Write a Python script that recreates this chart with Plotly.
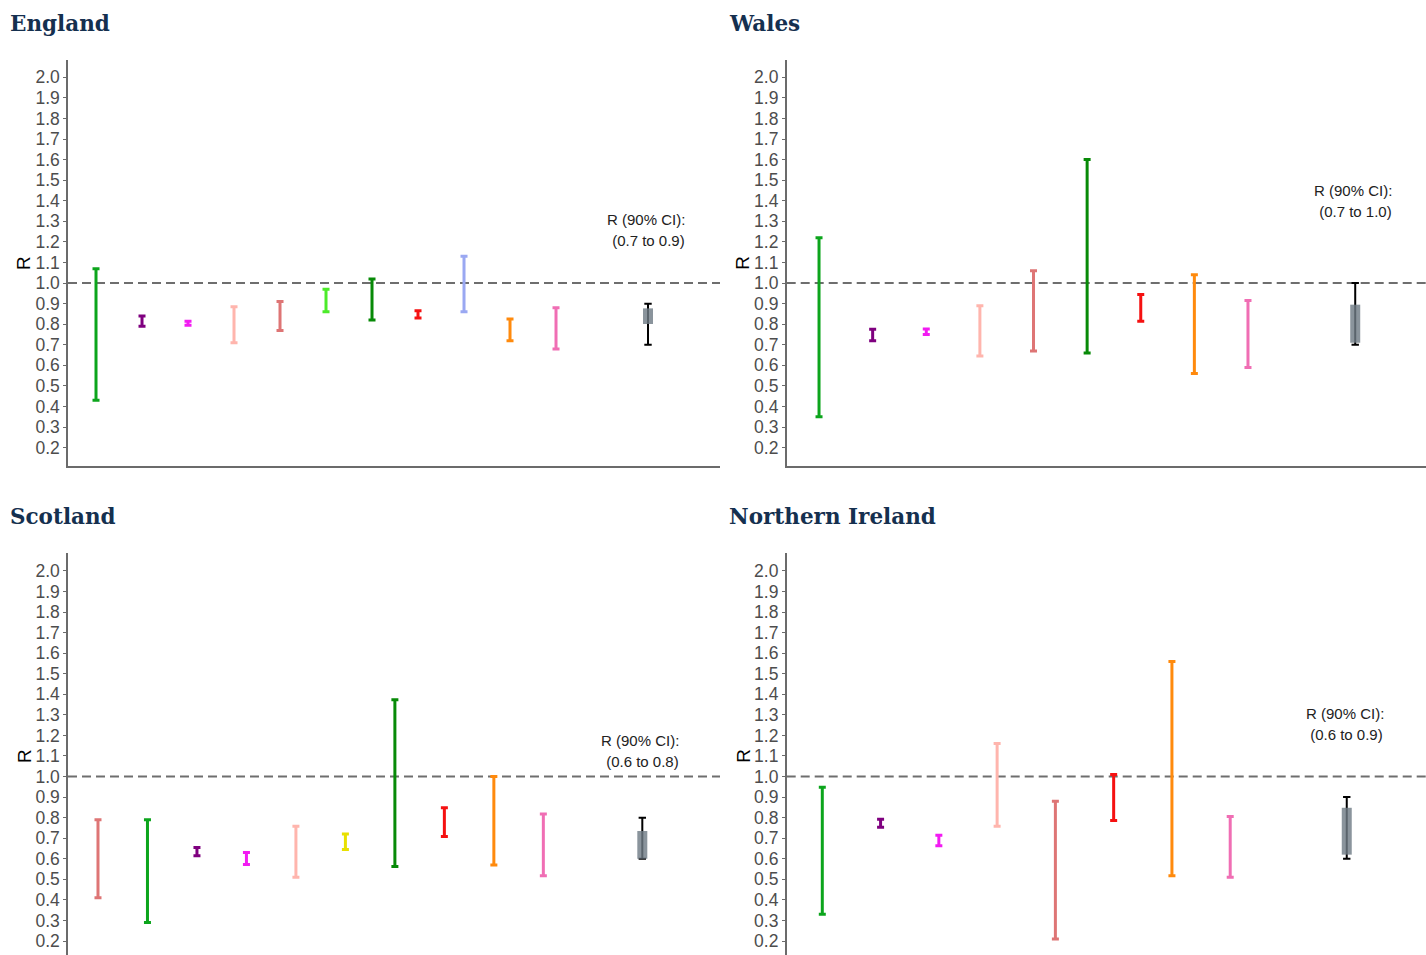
import plotly.graph_objects as go

# ---------------- data ----------------
REGIONS = ["England", "Wales", "Scotland", "Northern Ireland"]

GREEN = "#0CA51C"
DARK_GREEN = "#078A07"
LIME = "#4CEB2A"
PURPLE = "#7F007F"
MAGENTA = "#F21BF2"
LIGHT_PINK = "#FFB5AD"
ROSE = "#DE7575"
RED = "#F51111"
PERIWINKLE = "#9AA8F2"
ORANGE = "#FF8A0D"
PINK = "#F06EB4"
YELLOW = "#E8E000"

ENG_COLORS = [GREEN, PURPLE, MAGENTA, LIGHT_PINK, ROSE, LIME, DARK_GREEN, RED, PERIWINKLE, ORANGE, PINK]
ENG_LOW = [0.43, 0.79, 0.795, 0.71, 0.77, 0.86, 0.82, 0.83, 0.86, 0.72, 0.68]
ENG_HIGH = [1.07, 0.84, 0.815, 0.885, 0.91, 0.97, 1.02, 0.865, 1.13, 0.825, 0.88]

WAL_COLORS = [GREEN, PURPLE, MAGENTA, LIGHT_PINK, ROSE, DARK_GREEN, RED, ORANGE, PINK]
WAL_LOW = [0.35, 0.72, 0.75, 0.645, 0.67, 0.66, 0.815, 0.56, 0.59]
WAL_HIGH = [1.22, 0.775, 0.777, 0.89, 1.06, 1.60, 0.945, 1.04, 0.915]

SCO_COLORS = [ROSE, GREEN, PURPLE, MAGENTA, LIGHT_PINK, YELLOW, DARK_GREEN, RED, ORANGE, PINK]
SCO_LOW = [0.41, 0.29, 0.615, 0.572, 0.51, 0.645, 0.562, 0.708, 0.57, 0.518]
SCO_HIGH = [0.79, 0.79, 0.655, 0.63, 0.758, 0.72, 1.373, 0.848, 1.0, 0.818]

NI_COLORS = [GREEN, PURPLE, MAGENTA, LIGHT_PINK, ROSE, RED, ORANGE, PINK]
NI_LOW = [0.33, 0.753, 0.663, 0.758, 0.21, 0.786, 0.518, 0.51]
NI_HIGH = [0.948, 0.792, 0.714, 1.16, 0.88, 1.01, 1.559, 0.805]

# combined estimate: 90% CI (black) and inner range (grey box)
COMB_LOW = [0.70, 0.70, 0.60, 0.60]
COMB_HIGH = [0.90, 1.00, 0.80, 0.90]
BOX_LOW = [0.801, 0.71, 0.60, 0.62]
BOX_HIGH = [0.877, 0.895, 0.735, 0.848]

CI_TEXT = ["(0.7 to 0.9)", "(0.7 to 1.0)", "(0.6 to 0.8)", "(0.6 to 0.9)"]
CI_LABEL_Y = [1.31, 1.448, 1.173, 1.307]

PANELS = [
    (ENG_COLORS, ENG_LOW, ENG_HIGH),
    (WAL_COLORS, WAL_LOW, WAL_HIGH),
    (SCO_COLORS, SCO_LOW, SCO_HIGH),
    (NI_COLORS, NI_LOW, NI_HIGH),
]

# ---------------- layout geometry ----------------
W, H = 1426, 955
X_DOMAINS = [[68 / W, 720 / W], [786.7 / W, 1.0], [68 / W, 720 / W], [786.7 / W, 1.0]]
Y_DOMAINS = [[1 - 466 / H, 1 - 60 / H], [1 - 466 / H, 1 - 60 / H], [0.0, 1 - 553 / H], [0.0, 1 - 553 / H]]
X_RANGES = [[0.391, 14.565], [0.397, 12.32], [0.394, 13.57], [0.389, 11.36]]
Y_RANGES = [[0.111, 2.084], [0.111, 2.084], [0.132, 2.087], [0.132, 2.087]]
TITLE_POS = [(8, 23), (727, 23), (8, 516), (727, 516)]

fig = go.Figure()
annotations = []
shapes = []

for i, (colors, lows, highs) in enumerate(PANELS):
    sfx = "" if i == 0 else str(i + 1)
    xa, ya = "x" + sfx, "y" + sfx
    n = len(lows)
    # model intervals
    for j in range(n):
        mid = (lows[j] + highs[j]) / 2
        half = (highs[j] - lows[j]) / 2
        fig.add_trace(go.Scatter(
            x=[j + 1], y=[mid], mode="markers", xaxis=xa, yaxis=ya,
            marker=dict(color="rgba(0,0,0,0)", size=1),
            error_y=dict(type="data", array=[half], symmetric=True,
                         color=colors[j], thickness=3, width=3.5),
            showlegend=False, hoverinfo="skip"))
    cpos = n + 2
    # combined black CI
    cmid = (COMB_LOW[i] + COMB_HIGH[i]) / 2
    chalf = (COMB_HIGH[i] - COMB_LOW[i]) / 2
    fig.add_trace(go.Scatter(
        x=[cpos], y=[cmid], mode="markers", xaxis=xa, yaxis=ya,
        marker=dict(color="rgba(0,0,0,0)", size=1),
        error_y=dict(type="data", array=[chalf], symmetric=True,
                     color="#000000", thickness=2, width=3.7),
        showlegend=False, hoverinfo="skip"))
    # grey box
    bmid = (BOX_LOW[i] + BOX_HIGH[i]) / 2
    bhalf = (BOX_HIGH[i] - BOX_LOW[i]) / 2
    fig.add_trace(go.Scatter(
        x=[cpos], y=[bmid], mode="markers", xaxis=xa, yaxis=ya,
        marker=dict(color="rgba(0,0,0,0)", size=1),
        error_y=dict(type="data", array=[bhalf], symmetric=True,
                     color="rgba(111,123,133,0.81)", thickness=10, width=0),
        showlegend=False, hoverinfo="skip"))

    # reference line at R = 1
    shapes.append(dict(type="line", xref=xa + " domain", yref=ya, x0=0, x1=1, y0=1, y1=1,
                       line=dict(color="#6E6E6E", width=2, dash="9px,5px"), layer="below"))

    # CI text
    annotations.append(dict(x=cpos, y=CI_LABEL_Y[i], xref=xa, yref=ya, text="R (90% CI):",
                            showarrow=False, xanchor="center", yanchor="middle", xshift=-2,
                            font=dict(family="Liberation Sans, Arial", size=15, color="#222222")))
    annotations.append(dict(x=cpos, y=CI_LABEL_Y[i], xref=xa, yref=ya, text="\u00a0" + CI_TEXT[i],
                            showarrow=False, xanchor="center", yanchor="middle", xshift=-2, yshift=-21,
                            font=dict(family="Liberation Sans, Arial", size=15, color="#222222")))

    # panel title
    tx, ty = TITLE_POS[i]
    annotations.append(dict(x=tx / W, y=1 - ty / H, xref="paper", yref="paper", text="<b>" + REGIONS[i] + "</b>",
                            showarrow=False, xanchor="left", yanchor="middle",
                            font=dict(family="DejaVu Serif", size=21.5, color="#15304F")))
    # y axis title "R"
    ymid = (Y_DOMAINS[i][0] + Y_DOMAINS[i][1]) / 2 if i < 2 else 1 - 756 / H
    annotations.append(dict(x=(X_DOMAINS[i][0] * W - 44) / W, y=ymid, xref="paper", yref="paper", text="R",
                            showarrow=False, textangle=-90, xanchor="center", yanchor="middle",
                            font=dict(family="Liberation Sans, Arial", size=19, color="#000000")))

    top = i < 2
    fig.update_layout(**{
        "xaxis" + sfx: dict(domain=X_DOMAINS[i], range=X_RANGES[i], anchor=ya,
                            showgrid=False, zeroline=False, showticklabels=False, ticks="",
                            showline=top, linecolor="#6B6B6B", linewidth=2, fixedrange=True),
        "yaxis" + sfx: dict(domain=Y_DOMAINS[i], range=Y_RANGES[i], anchor=xa,
                            showgrid=False, zeroline=False, tick0=0, dtick=0.1, tickformat=".1f",
                            ticks="outside", ticklen=3, tickcolor="#6B6B6B", tickwidth=1,
                            showline=True, linecolor="#6B6B6B", linewidth=1.5,
                            tickfont=dict(family="Liberation Sans, Arial", size=17.5, color="#4D4D4D"),
                            fixedrange=True),
    })

fig.update_layout(
    width=W, height=H,
    margin=dict(l=0, r=0, t=0, b=0),
    paper_bgcolor="white", plot_bgcolor="white",
    showlegend=False,
    annotations=annotations,
    shapes=shapes,
)

fig.write_html("out.html", config={"displayModeBar": False},
               post_script="document.body.style.margin='0';document.body.style.overflow='hidden';")
